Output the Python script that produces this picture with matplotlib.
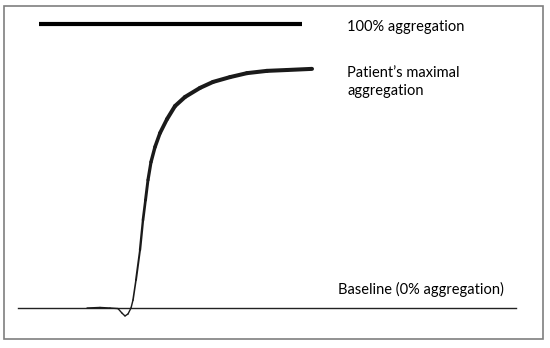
import matplotlib
matplotlib.use('Agg')
import matplotlib.pyplot as plt
import numpy as np
from matplotlib.collections import LineCollection
from matplotlib.patches import Rectangle

# Aggregation trace: time (s) vs aggregation (%)
time_s = [0, 26, 46, 62, 70, 76, 82, 88, 92, 98, 106, 112, 117, 122, 128,
          136, 146, 160, 176, 196, 226, 252, 286, 320, 360, 400, 450]
aggregation = [0, 0.2, 0, -0.2, -1.8, -2.8, -2.1, 0, 2.8, 9.9, 20.4, 31.0,
               38.0, 45.1, 51.4, 56.7, 61.6, 66.5, 71.1, 74.3, 77.5, 79.6,
               81.3, 82.7, 83.5, 83.8, 84.2]

full_line_t = [-96, 430]
baseline_t = [-138, 858]

plt.rcParams['font.family'] = ['Lato', 'DejaVu Sans']

fig = plt.figure(figsize=(5.5, 3.48), dpi=100)
ax = fig.add_axes([0, 0, 1, 1])
ax.set_xlim(-174, 926)
ax.set_ylim(-14.08, 108.45)
ax.axis('off')

# 100% line and baseline
ax.plot(full_line_t, [100, 100], color='black', lw=3.0, solid_capstyle='butt')
ax.plot(baseline_t, [0, 0], color='#222222', lw=1.0)

# trace: thin near the baseline, getting thicker as it rises
pts = np.column_stack([time_s, aggregation])
segs = np.stack([pts[:-1], pts[1:]], axis=1)
mid = (np.array(aggregation[:-1]) + np.array(aggregation[1:])) / 2
widths = 1.0 + 1.9 * np.clip(mid / 70, 0, 1)
lc = LineCollection(segs, colors='#1a1a1a', linewidths=widths, capstyle='round',
                    joinstyle='round')
ax.add_collection(lc)

ax.text(520, 98.8, '100% aggregation', fontsize=10.5, va='center', ha='left')
ax.text(520, 85.3, 'Patient\u2019s maximal\naggregation', fontsize=10.5,
        va='top', ha='left', linespacing=1.36)
ax.text(502, 6.4, 'Baseline (0% aggregation)', fontsize=10.5, va='center', ha='left')

# outer frame
fig.patches.append(Rectangle((4 / 550, 9 / 348), 539 / 550, 333 / 348,
                             transform=fig.transFigure, fill=False,
                             edgecolor='#7f7f7f', lw=1.2))

fig.savefig('out.png', dpi=100)
